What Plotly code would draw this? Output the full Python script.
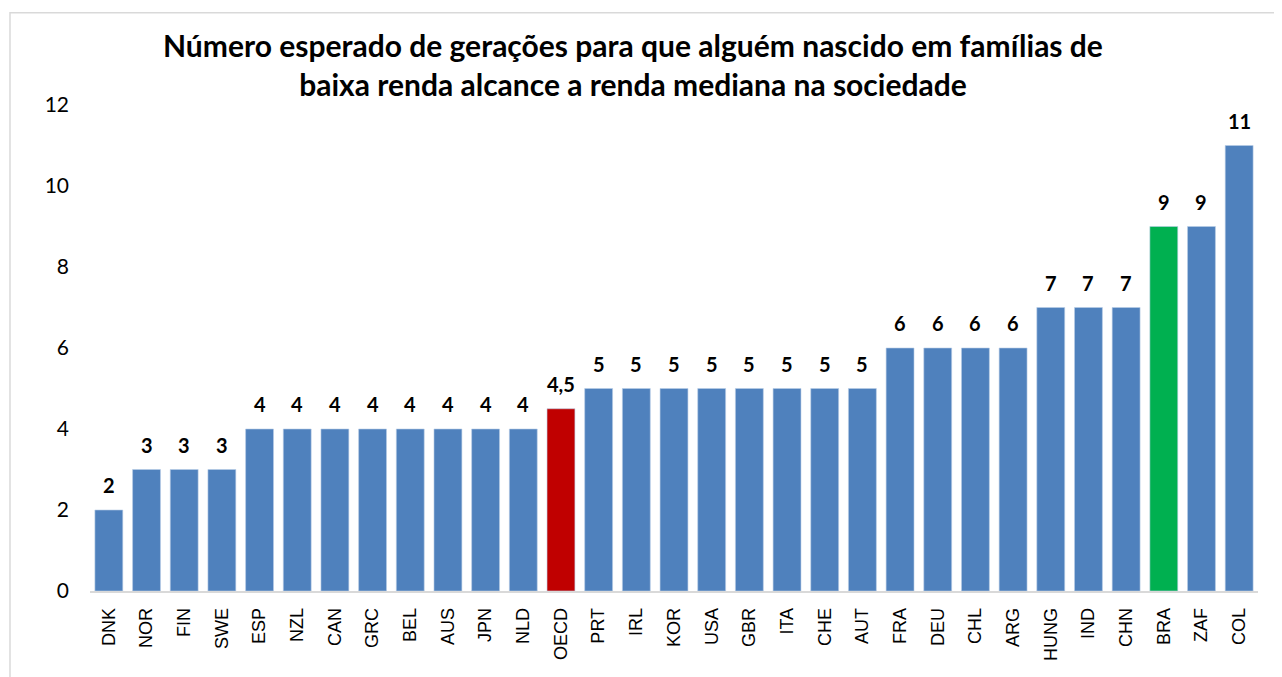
import plotly.graph_objects as go

countries = ["DNK","NOR","FIN","SWE","ESP","NZL","CAN","GRC","BEL","AUS","JPN","NLD","OECD",
             "PRT","IRL","KOR","USA","GBR","ITA","CHE","AUT","FRA","DEU","CHL","ARG","HUNG",
             "IND","CHN","BRA","ZAF","COL"]
values = [2,3,3,3,4,4,4,4,4,4,4,4,4.5,5,5,5,5,5,5,5,5,6,6,6,6,7,7,7,9,9,11]
labels = ["2","3","3","3","4","4","4","4","4","4","4","4","4,5","5","5","5","5","5","5","5","5",
          "6","6","6","6","7","7","7","9","9","11"]
y_ticks = [0, 2, 4, 6, 8, 10, 12]
title_text = ("Número esperado de gerações para que alguém nascido em famílias de<br>"
              "baixa renda alcance a renda mediana na sociedade")

BLUE = "#4F81BD"
RED = "#C00000"
GREEN = "#00B050"
colors = [RED if c == "OECD" else GREEN if c == "BRA" else BLUE for c in countries]

fig = go.Figure(go.Bar(
    x=countries, y=values, marker=dict(color=colors, line=dict(color="#B9CDE5", width=0.6)),
))

annotations = [
    dict(x=c, y=v, xref="x", yref="y", text=t, showarrow=False, yanchor="bottom", yshift=11,
         font=dict(family="Lato, Calibri, sans-serif", size=20, color="black", weight="bold"))
    for c, v, t in zip(countries, values, labels)
]
annotations.append(dict(
    x=0.4653, y=1.084, xref="paper", yref="paper", xanchor="center", yanchor="middle",
    text=title_text, showarrow=False, align="center",
    font=dict(family="Lato, Calibri, sans-serif", size=30, color="black", weight="bold"),
))

fig.update_layout(
    width=1274, height=669,
    paper_bgcolor="white", plot_bgcolor="white",
    margin=dict(l=82, r=24, t=97, b=86, autoexpand=False),
    bargap=0.26,
    showlegend=False,
    annotations=annotations,
    xaxis=dict(
        tickangle=-90, showline=True, linecolor="#D9D9D9", linewidth=1.5,
        ticks="", automargin=False, ticklabelstandoff=8,
        tickfont=dict(family="Liberation Sans, Arial, sans-serif", size=18, color="black"),
    ),
    yaxis=dict(
        range=[0, 12], tickvals=y_ticks, showgrid=False, zeroline=False, showline=False,
        ticks="", ticklabelstandoff=20, automargin=False,
        tickfont=dict(family="Lato, Calibri, sans-serif", size=21, color="black"),
    ),
    shapes=[dict(type="rect", xref="paper", yref="paper", x0=-0.0685, x1=1.03, y0=-0.18, y1=1.19,
                 line=dict(color="#D9D9D9", width=1.5))],
)

fig.write_html("out.html")
